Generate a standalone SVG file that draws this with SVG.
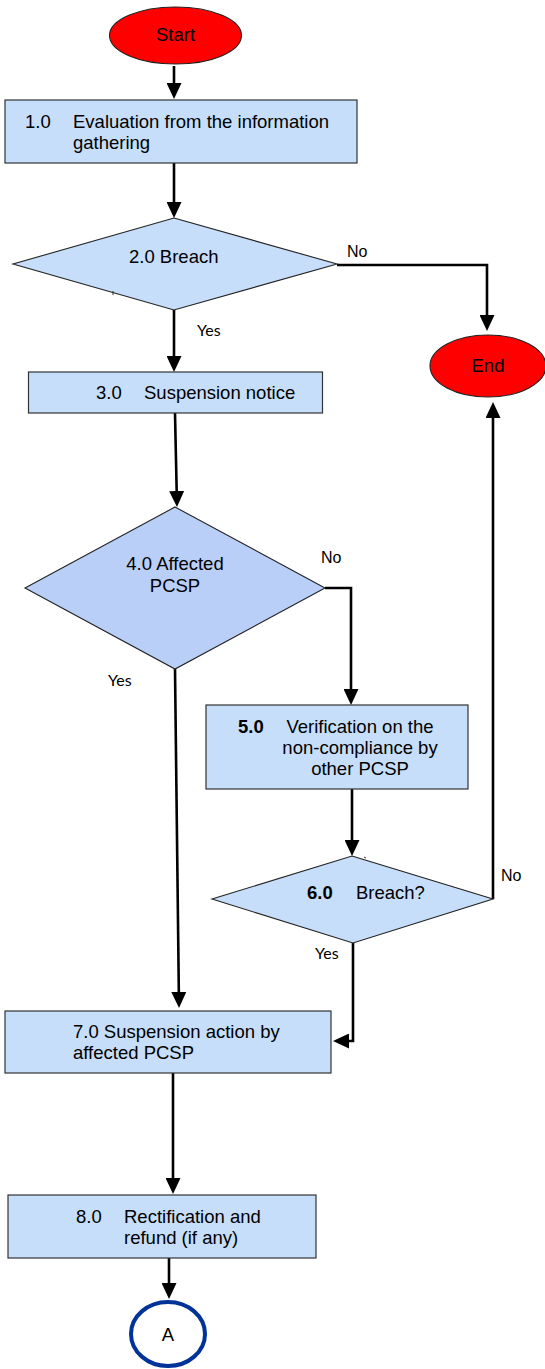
<svg xmlns="http://www.w3.org/2000/svg" width="545" height="1369" viewBox="0 0 545 1369">
  <style>
    .t { font-family: "Liberation Sans", Arial, sans-serif; font-size: 18.5px; fill: #000; }
    .b { font-weight: bold; }
    .lbl { font-family: "Liberation Sans", Arial, sans-serif; font-size: 16px; fill: #000; }
    .yes { font-family: Lato, "Open Sans", sans-serif; font-size: 16px; fill: #000; }
    .box { fill: #C6DEFA; stroke: #333; stroke-width: 1.2; }
    .dia { fill: #C6DEFA; stroke: #222; stroke-width: 1.1; }
    .dia2 { fill: #B9CFF8; stroke: #222; stroke-width: 1.1; }
    .term { fill: #FF0000; stroke: #222; stroke-width: 1.1; }
    .conn { fill: none; stroke: #000; stroke-width: 2.6; }
    .tick { fill: none; stroke: #333; stroke-width: 1; }
  </style>
  <defs>
    <marker id="arrow" markerUnits="userSpaceOnUse" markerWidth="16" markerHeight="15" viewBox="0 0 16 15" refX="6" refY="7.5" orient="auto">
      <path d="M0,0 L16,7.5 L0,15 z" fill="#000"/>
    </marker>
  </defs>

  <!-- connectors -->
  <g id="connectors">
    <line class="conn" x1="174" y1="66" x2="174" y2="89" marker-end="url(#arrow)"/>
    <line class="conn" x1="174" y1="163" x2="174" y2="208" marker-end="url(#arrow)"/>
    <polyline class="conn" points="337,265 487,265 487,321" marker-end="url(#arrow)"/>
    <line class="conn" x1="174" y1="310" x2="174" y2="362" marker-end="url(#arrow)"/>
    <line class="conn" x1="175" y1="413" x2="176.8" y2="497" marker-end="url(#arrow)"/>
    <polyline class="conn" points="325,588 351,588 351,695" marker-end="url(#arrow)"/>
    <line class="conn" x1="175" y1="669" x2="178.9" y2="998" marker-end="url(#arrow)"/>
    <line class="conn" x1="352" y1="789" x2="352" y2="846" marker-end="url(#arrow)"/>
    <polyline class="conn" points="493,899 493,412" marker-end="url(#arrow)"/>
    <polyline class="conn" points="353,943 353,1041 343,1041" marker-end="url(#arrow)"/>
    <line class="conn" x1="173" y1="1073" x2="173" y2="1184" marker-end="url(#arrow)"/>
    <line class="conn" x1="169" y1="1258" x2="169" y2="1289" marker-end="url(#arrow)"/>
    <!-- labels -->
    <text class="lbl" x="347" y="257">No</text>
    <text class="yes" x="197" y="336">Yes</text>
    <text class="lbl" x="321" y="563">No</text>
    <text class="yes" x="108" y="686">Yes</text>
    <text class="lbl" x="501" y="881">No</text>
    <text class="yes" x="315" y="959">Yes</text>
  </g>

  <g id="start">
    <ellipse class="term" cx="175.5" cy="35.5" rx="66" ry="28.5"/>
    <text class="t" x="175.5" y="41" text-anchor="middle">Start</text>
  </g>

  <g id="step1">
    <rect class="box" x="5" y="100" width="352" height="63"/>
    <text class="t" x="25" y="128">1.0</text>
    <text class="t" x="73" y="128">Evaluation from the information</text>
    <text class="t" x="73" y="149">gathering</text>
  </g>

  <g id="step2">
    <polygon class="dia" points="174,218 337,264 174,310 13,264"/>
    <line class="tick" x1="113" y1="291" x2="113" y2="295"/>
    <text class="t" x="129" y="263">2.0 Breach</text>
  </g>

  <g id="end">
    <ellipse class="term" cx="488" cy="366" rx="58" ry="31"/>
    <text class="t" x="488" y="372" text-anchor="middle">End</text>
  </g>

  <g id="step3">
    <rect class="box" x="28.5" y="372" width="294" height="41"/>
    <text class="t" x="96" y="399">3.0</text>
    <text class="t" x="144" y="399">Suspension notice</text>
  </g>

  <g id="step4">
    <polygon class="dia2" points="175,507 325,588 175,669 25,588"/>
    <text class="t" x="175" y="570" text-anchor="middle">4.0 Affected</text>
    <text class="t" x="175" y="592" text-anchor="middle">PCSP</text>
  </g>

  <g id="step5">
    <rect class="box" x="206" y="705" width="262" height="84"/>
    <text class="t b" x="238" y="733">5.0</text>
    <text class="t" x="360" y="733" text-anchor="middle">Verification on the</text>
    <text class="t" x="360" y="754" text-anchor="middle">non-compliance by</text>
    <text class="t" x="360" y="775" text-anchor="middle">other PCSP</text>
  </g>

  <g id="step6">
    <polygon class="dia" points="352,856 493,899 353,943 212,899"/>
    <line class="tick" x1="364" y1="857" x2="366" y2="858"/>
    <text class="t b" x="307" y="899">6.0</text>
    <text class="t" x="356" y="899">Breach?</text>
  </g>

  <g id="step7">
    <rect class="box" x="5" y="1011" width="326" height="62"/>
    <text class="t" x="73" y="1038">7.0 Suspension action by</text>
    <text class="t" x="73" y="1059">affected PCSP</text>
  </g>

  <g id="step8">
    <rect class="box" x="8" y="1195" width="308" height="63"/>
    <text class="t" x="76" y="1223">8.0</text>
    <text class="t" x="124" y="1223">Rectification and</text>
    <text class="t" x="124" y="1244">refund (if any)</text>
  </g>

  <g id="connectorA">
    <ellipse cx="168" cy="1334" rx="37" ry="32" fill="#fff" stroke="#003399" stroke-width="4"/>
    <text class="t" x="168" y="1341" text-anchor="middle">A</text>
  </g>
</svg>
